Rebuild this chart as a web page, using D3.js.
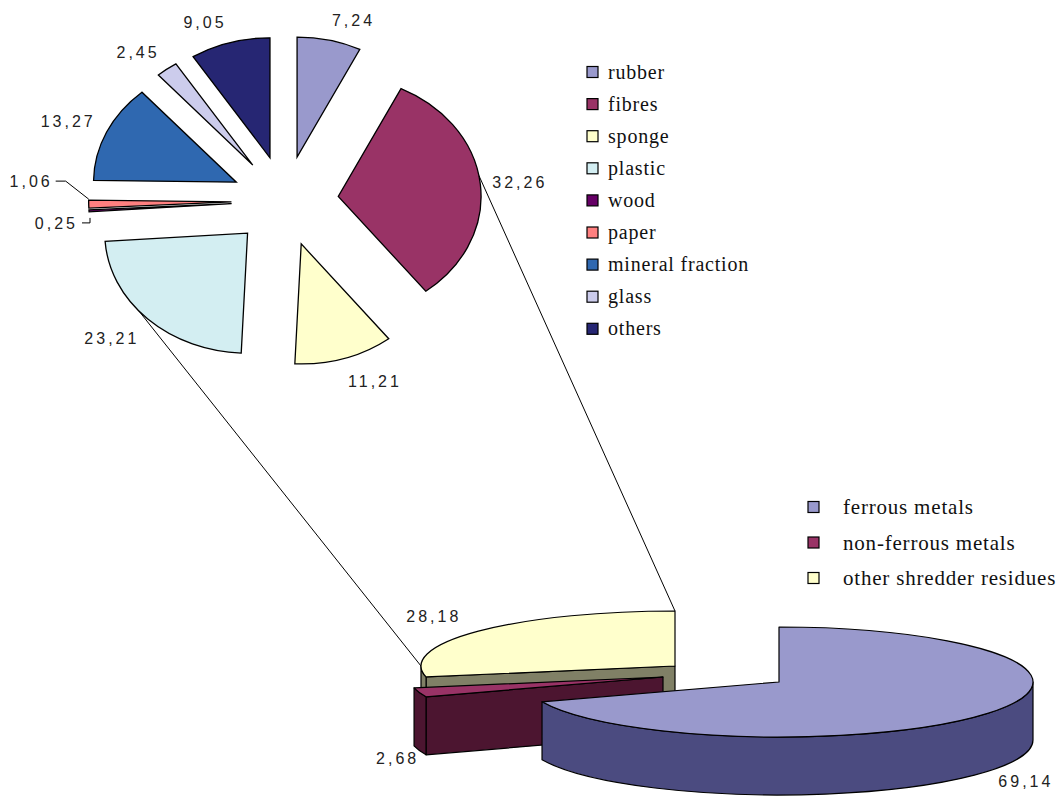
<!DOCTYPE html>
<html>
<head>
<meta charset="utf-8">
<script src="https://cdn.jsdelivr.net/npm/d3@7"></script>
<style>
  body { margin: 0; background: #fff; }
  svg { display: block; }
  .lbl { font-family: "Liberation Sans", Arial, sans-serif; font-size: 16px; letter-spacing: 3px; fill: #222; }
  .leg { font-family: "Liberation Serif", "Times New Roman", Times, serif; fill: #111; letter-spacing: 0.8px; }
</style>
</head>
<body>
<div id="chart"></div>
<script>
// composition of the other shredder residues (upper, flat pie)
var residueNames = ["rubber", "fibres", "sponge", "plastic", "wood", "paper", "mineral fraction", "glass", "others"];
var residueValues = [7.24, 32.26, 11.21, 23.21, 0.25, 1.06, 13.27, 2.45, 9.05];
var residueColors = ["#9999cc", "#993366", "#ffffcc", "#d3eef2", "#660066", "#ff8080", "#2f68b0", "#ccccec", "#262673"];

// whole shredder output (lower, 3d pie)
var outputNames = ["ferrous metals", "non-ferrous metals", "other shredder residues"];
var outputValues = [69.14, 2.68, 28.18];
var outputColors = ["#9999cc", "#993366", "#ffffcc"];
var outputSides = ["#4b4b80", "#4c1530", "#808066"];

var width = 1064, height = 798;
var fmt = function(v) { return d3.format(".2f")(v).replace(".", ","); };

var svg = d3.select("#chart").append("svg")
  .attr("width", width)
  .attr("height", height);

var pie = d3.pie().sort(null).value(function(d) { return d; });

// ---------- upper pie ----------
var up = { cx: 285, cy: 201, r: 120, sx: 1.19, explode: 45 };
var upArcs = pie(residueValues);
var arc = d3.arc().innerRadius(0).outerRadius(up.r);

upArcs.forEach(function(d) {
  var mid = (d.startAngle + d.endAngle) / 2;
  d.mid = mid;
  d.apex = [up.cx + up.explode * Math.sin(mid) * up.sx, up.cy - up.explode * Math.cos(mid)];
});

function upPoint(d, a, rr) {
  return [d.apex[0] + rr * Math.sin(a) * up.sx, d.apex[1] - rr * Math.cos(a)];
}

svg.append("g").selectAll("path")
  .data(upArcs)
  .enter().append("path")
  .attr("transform", function(d) { return "translate(" + d.apex[0] + "," + d.apex[1] + ") scale(" + up.sx + ",1)"; })
  .attr("d", arc)
  .attr("fill", function(d, i) { return residueColors[i]; })
  .attr("stroke", "#000")
  .attr("stroke-width", 1.3)
  .attr("vector-effect", "non-scaling-stroke");

// labels of the upper pie
var small = upArcs.filter(function(d) { return d.value < 2; });

upArcs.forEach(function(d) {
  var s = Math.sin(d.mid), c = Math.cos(d.mid);
  var o = upPoint(d, d.mid, up.r);
  if (d.value < 2) {
    var k = small.indexOf(d);
    var pts, lx, ly;
    if (k === 0) {
      pts = [[o[0] + 1, o[1] + 7], [o[0] + 1, o[1] + 12], [o[0] - 7, o[1] + 12]];
      lx = o[0] - 11; ly = o[1] + 12;
    } else {
      pts = [[o[0], o[1] - 5], [o[0] - 23, o[1] - 23], [o[0] - 33, o[1] - 23]];
      lx = o[0] - 36; ly = o[1] - 23;
    }
    svg.append("path")
      .attr("d", d3.line()(pts))
      .attr("fill", "none")
      .attr("stroke", "#000")
      .attr("stroke-width", 1);
    svg.append("text")
      .attr("class", "lbl")
      .attr("x", lx)
      .attr("y", ly + 6)
      .attr("text-anchor", "end")
      .text(fmt(d.value));
    return;
  }
  var ax = o[0] + 12 * s, ay = o[1] - 18 * c;
  var anchor = s > 0.1 ? "start" : (s < -0.1 ? "end" : "middle");
  var base = c > 0.3 ? ay + 3 : (c < -0.3 ? ay + 12 : ay + 6);
  svg.append("text")
    .attr("class", "lbl")
    .attr("x", ax)
    .attr("y", base)
    .attr("text-anchor", anchor)
    .text(fmt(d.value));
});

// ---------- lower 3d pie ----------
var low = { cx: 779, cy: 682, rx: 254, ry: 55, depth: 58 };
var lowOffsets = [[0, 0], [-116, -5], [-104, -16]];
var lowArcs = pie(outputValues);
lowArcs.forEach(function(d, i) {
  d.apex = [low.cx + lowOffsets[i][0], low.cy + lowOffsets[i][1]];
  d.mid = (d.startAngle + d.endAngle) / 2;
  d.i = i;
});

function ept(c, a, dy) {
  return [c[0] + low.rx * Math.sin(a), c[1] - low.ry * Math.cos(a) + (dy || 0)];
}
function ea(p, large, sweep) {
  return "A" + low.rx + "," + low.ry + " 0 " + large + " " + sweep + " " + p[0] + "," + p[1];
}

// connector lines between the pies
var yellow = lowArcs[2];
var connectors = [
  [upPoint(upArcs[3], 229.5 * Math.PI / 180, up.r), ept(yellow.apex, 1.5 * Math.PI)],
  [upPoint(upArcs[1], 80 * Math.PI / 180, up.r), ept(yellow.apex, 2 * Math.PI)]
];
svg.append("g").selectAll("line")
  .data(connectors)
  .enter().append("line")
  .attr("x1", function(d) { return d[0][0]; })
  .attr("y1", function(d) { return d[0][1]; })
  .attr("x2", function(d) { return d[1][0]; })
  .attr("y2", function(d) { return d[1][1]; })
  .attr("stroke", "#000")
  .attr("stroke-width", 1);

var order = lowArcs.slice().sort(function(a, b) { return a.apex[1] - b.apex[1]; });
var g3 = svg.append("g")
  .attr("stroke", "#000")
  .attr("stroke-width", 1.2)
  .attr("stroke-linejoin", "round");

order.forEach(function(d) {
  var a0 = d.startAngle, a1 = d.endAngle, c = d.apex, h = low.depth;
  var bottomApex = [c[0], c[1] + h];
  function radial(a) {
    var p = ept(c, a), q = ept(c, a, h);
    return "M" + c + "L" + p + "L" + q + "L" + bottomApex + "Z";
  }
  // radial faces facing the viewer
  if (Math.sin(a0) < -1e-6) {
    g3.append("path").attr("d", radial(a0)).attr("fill", outputSides[d.i]);
  }
  if (Math.sin(a1) > 1e-6) {
    g3.append("path").attr("d", radial(a1)).attr("fill", outputSides[d.i]);
  }
  // outer curved side on the front half
  var s0 = Math.max(a0, Math.PI / 2), s1 = Math.min(a1, 1.5 * Math.PI);
  if (s1 > s0) {
    var p0 = ept(c, s0), p1 = ept(c, s1);
    var large = (s1 - s0) > Math.PI ? 1 : 0;
    g3.append("path")
      .attr("d", "M" + p0 + ea(p1, large, 1) + "L" + ept(c, s1, h) + ea(ept(c, s0, h), large, 0) + "Z")
      .attr("fill", outputSides[d.i]);
  }
  // top face
  var t0 = ept(c, a0), t1 = ept(c, a1);
  g3.append("path")
    .attr("d", "M" + c + "L" + t0 + ea(t1, (a1 - a0) > Math.PI ? 1 : 0, 1) + "Z")
    .attr("fill", outputColors[d.i]);
});

// labels of the lower pie: back slices by the top rim, front slices by the bottom rim
lowArcs.forEach(function(d) {
  var s = Math.sin(d.mid), c = Math.cos(d.mid);
  var back = c >= 0;
  var p = back ? ept(d.apex, d.mid) : ept(d.apex, d.mid, low.depth);
  var ax = p[0] + (back ? 22 * s : 12 * Math.max(s, 0));
  var ay = back ? p[1] - 14 * c : p[1] - 6 * c + 12;
  var anchor = s > 0.5 ? "start" : (s < -0.5 ? "end" : "middle");
  svg.append("text")
    .attr("class", "lbl")
    .attr("x", ax)
    .attr("y", ay)
    .attr("text-anchor", anchor)
    .text(fmt(d.value));
});

// ---------- legends ----------
var leg1 = svg.append("g").selectAll("g")
  .data(residueNames)
  .enter().append("g")
  .attr("transform", function(d, i) { return "translate(587," + (72 + i * 32.1) + ")"; });
leg1.append("rect")
  .attr("x", 0).attr("y", -5.5)
  .attr("width", 11).attr("height", 11)
  .attr("fill", function(d, i) { return residueColors[i]; })
  .attr("stroke", "#000")
  .attr("stroke-width", 1.2);
leg1.append("text")
  .attr("class", "leg")
  .attr("x", 21).attr("y", 6.5)
  .attr("font-size", 20)
  .text(function(d) { return d; });

var leg2 = svg.append("g").selectAll("g")
  .data(outputNames)
  .enter().append("g")
  .attr("transform", function(d, i) { return "translate(808," + (507 + i * 35.5) + ")"; });
leg2.append("rect")
  .attr("x", 0).attr("y", -5.5)
  .attr("width", 11).attr("height", 11)
  .attr("fill", function(d, i) { return outputColors[i]; })
  .attr("stroke", "#000")
  .attr("stroke-width", 1.2);
leg2.append("text")
  .attr("class", "leg")
  .attr("x", 35).attr("y", 7)
  .attr("font-size", 21)
  .text(function(d) { return d; });
</script>
</body>
</html>
